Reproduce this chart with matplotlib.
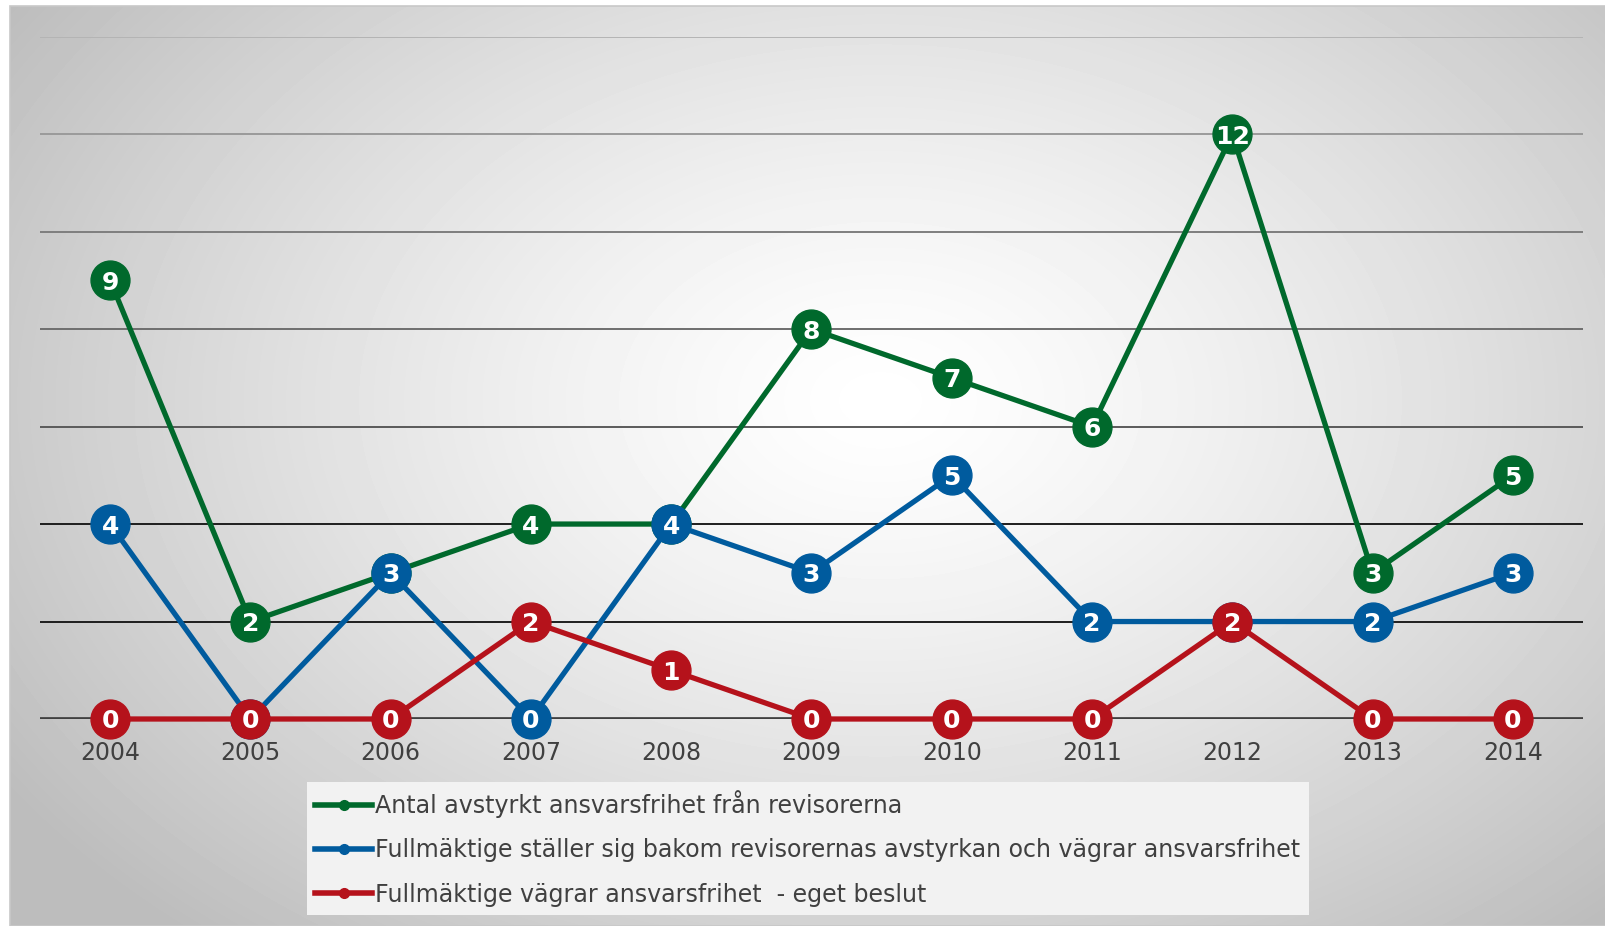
import numpy as np
import matplotlib.pyplot as plt

# Data
years = ['2004', '2005', '2006', '2007', '2008', '2009', '2010', '2011', '2012', '2013', '2014']
avstyrkt = [9, 2, 3, 4, 4, 8, 7, 6, 12, 3, 5]
bakom = [4, 0, 3, 0, 4, 3, 5, 2, 2, 2, 3]
eget = [0, 0, 0, 2, 1, 0, 0, 0, 2, 0, 0]

series_names = ['Antal avstyrkt ansvarsfrihet från revisorerna',
                'Fullmäktige ställer sig bakom revisorernas avstyrkan och vägrar ansvarsfrihet',
                'Fullmäktige vägrar ansvarsfrihet  - eget beslut']
series_colors = ['#00692c', '#005b9e', '#b5121b']

grid_levels = [2, 4, 6, 8, 10, 12, 14]
grid_colors = ['#1e1e1e', '#1e1e1e', '#5a5a5a', '#6e6e6e', '#7e7e7e', '#9a9a9a', '#b4b4b4']

W, H = 1606, 926
fig = plt.figure(figsize=(W / 100, H / 100), dpi=100)
fig.patch.set_facecolor('white')

# radial gradient background
bg = fig.add_axes([10 / W, 0, 1 - 10 / W, 1 - 6 / H])
yy, xx = np.mgrid[6:H, 10:W]
r = np.sqrt(((xx - 880) / 820.0) ** 2 + ((yy - 400) / 560.0) ** 2)
val = np.clip(1 - 0.19 * r ** 1.3, 0.74, 1)
bg.imshow(val, cmap='gray', vmin=0, vmax=1, aspect='auto', interpolation='bilinear')
bg.set_axis_off()
fig.add_artist(plt.Rectangle((10 / W, 0), 1 - 10 / W, 1 - 6 / H, transform=fig.transFigure,
                             fill=False, edgecolor='#c8c8c8', lw=1.2))

ax = fig.add_axes([40 / W, 1 - 719 / H, 1543 / W, (719 - 36.7) / H])
ax.patch.set_alpha(0)
ax.set_xlim(-0.5, len(years) - 0.5)
ax.set_ylim(0, 14)
for s in ax.spines.values():
    s.set_visible(False)
ax.set_yticks([])
ax.set_xticks(range(len(years)))
ax.set_xticklabels(years, fontsize=17, color='#404040')
ax.tick_params(axis='x', length=0, pad=16)

for lvl, c in zip(grid_levels, grid_colors):
    ax.axhline(lvl, color=c, lw=1.4, zorder=1)
ax.axhline(0, color='#404040', lw=3.4, zorder=1)

x = np.arange(len(years))
for k, (vals, name, col) in enumerate(zip([avstyrkt, bakom, eget], series_names, series_colors)):
    z = 3 + 2 * k
    ax.plot(x, vals, color=col, lw=3.8, marker='o', markersize=28, zorder=z, clip_on=False)
    for xi, v in zip(x, vals):
        ax.text(xi, v, str(v), color='white', fontsize=18, fontweight='bold',
                ha='center', va='center_baseline', zorder=z + 1, clip_on=False)

# legend built with small markers like the original
handles = [plt.Line2D([], [], color=c, lw=4, marker='o', markersize=7) for c in series_colors]
leg = fig.legend(handles, series_names, loc='upper left', bbox_to_anchor=(307 / W, 1 - 782 / H),
                 fontsize=17.1, frameon=True, fancybox=False, handlelength=2.4, handletextpad=0.12,
                 labelspacing=0.85, borderpad=0.35, borderaxespad=0, labelcolor='#404040')
leg.get_frame().set_facecolor('#f2f2f2')
leg.get_frame().set_edgecolor('none')
leg.get_frame().set_alpha(1)

fig.savefig('out.png', dpi=100)
